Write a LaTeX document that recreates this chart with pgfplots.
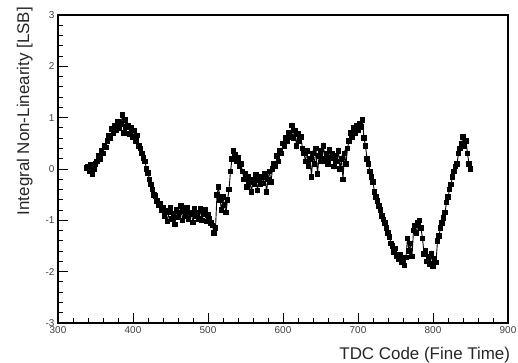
\documentclass[border=0pt]{standalone}
\usepackage{fontspec}
\setmainfont{Liberation Sans}
\usepackage{pgfplots}
\pgfplotsset{compat=1.18}
\usepackage{pgfplotstable}
\pgfplotstableread{
x y
338 0.02
340 0.05
342 -0.05
344 0.08
346 -0.10
348 0.00
350 0.10
352 0.15
354 0.25
356 0.20
358 0.35
360 0.30
362 0.45
364 0.42
366 0.55
368 0.65
370 0.60
372 0.78
374 0.70
376 0.85
378 0.75
380 0.92
382 0.80
384 0.88
386 1.05
388 0.70
390 0.95
392 0.82
394 0.85
396 0.68
398 0.80
400 0.62
402 0.75
404 0.55
406 0.65
408 0.45
410 0.40
412 0.30
414 0.22
416 0.15
418 0.00
420 -0.08
422 -0.20
424 -0.30
426 -0.40
428 -0.50
430 -0.52
432 -0.62
434 -0.70
436 -0.68
438 -0.80
440 -0.75
442 -0.92
444 -0.82
446 -1.02
448 -0.85
450 -0.76
452 -0.97
454 -0.88
456 -1.08
458 -0.80
460 -0.94
462 -0.85
464 -0.72
466 -1.00
468 -0.82
470 -0.92
472 -0.76
474 -0.97
476 -0.85
478 -0.88
480 -1.04
482 -0.78
484 -0.92
486 -0.85
488 -0.97
490 -0.78
492 -1.00
494 -0.88
496 -0.80
498 -1.02
500 -0.90
502 -0.96
504 -1.05
506 -1.10
508 -1.25
510 -1.15
512 -0.50
514 -0.35
516 -0.60
518 -0.80
520 -0.55
522 -0.70
524 -0.85
526 -0.60
528 -0.40
530 -0.05
532 0.20
534 0.35
536 0.28
538 0.15
540 0.22
542 0.05
544 0.10
546 -0.05
548 -0.20
550 -0.10
552 -0.35
554 -0.15
556 -0.25
558 -0.45
560 -0.20
562 -0.30
564 -0.12
566 -0.42
568 -0.22
570 -0.30
572 -0.15
574 -0.28
576 -0.10
578 -0.45
580 -0.20
582 -0.05
584 -0.25
586 0.00
588 0.10
590 0.05
592 0.25
594 0.15
596 0.35
598 0.30
600 0.50
602 0.45
604 0.60
606 0.55
608 0.70
610 0.62
612 0.85
614 0.60
616 0.75
618 0.45
620 0.68
622 0.55
624 0.62
626 0.40
628 0.30
630 0.15
632 0.35
634 0.05
636 0.20
638 -0.15
640 0.30
642 0.10
644 0.40
646 -0.10
648 0.25
650 0.35
652 0.15
654 0.45
656 0.20
658 0.30
660 0.10
662 0.38
664 0.22
666 0.30
668 0.05
670 0.25
672 0.15
674 0.35
676 0.00
678 0.20
680 -0.20
682 0.30
684 0.10
686 0.40
688 0.55
690 0.70
692 0.62
694 0.80
696 0.70
698 0.85
700 0.75
702 0.88
704 0.82
706 0.95
708 0.60
710 0.45
712 0.20
714 0.10
716 -0.05
718 -0.15
720 -0.25
722 -0.45
724 -0.55
726 -0.62
728 -0.72
730 -0.80
732 -0.92
734 -0.98
736 -1.05
738 -1.15
740 -1.25
742 -1.32
744 -1.45
746 -1.50
748 -1.62
750 -1.55
752 -1.70
754 -1.75
756 -1.68
758 -1.82
760 -1.78
762 -1.88
764 -1.72
766 -1.35
768 -1.60
770 -1.45
772 -1.70
774 -1.20
776 -1.10
778 -1.25
780 -1.05
782 -1.00
784 -1.15
786 -1.35
788 -1.65
790 -1.60
792 -1.80
794 -1.70
796 -1.85
798 -1.65
800 -1.90
802 -1.75
804 -1.82
806 -1.40
808 -1.30
810 -1.15
812 -1.05
814 -0.95
816 -0.85
818 -0.65
820 -0.55
822 -0.40
824 -0.30
826 -0.15
828 -0.05
830 0.05
832 0.10
834 0.30
836 0.40
838 0.50
840 0.62
842 0.45
844 0.55
846 0.30
848 0.10
850 0.00
}\inldata
\begin{document}
\begin{tikzpicture}
\begin{axis}[
  at={(0,0)}, anchor=south west,
  scale only axis,
  width=450bp, height=308bp,
  xmin=300, xmax=900, ymin=-3, ymax=3,
  xtick={300,400,...,900},
  ytick={-3,-2,...,3},
  minor tick num=4,
  tick align=inside,
  xtick pos=bottom, ytick pos=left,
  major tick length=10bp, minor tick length=5bp,
  axis line style={line width=1.1bp},
  every tick/.style={line width=1bp, black},
  /pgf/number format/assume math mode=true,
  tick label style={font=\fontsize{10}{12}\selectfont, color=black!75},
  ylabel={Integral Non-Linearity [LSB]},
  xlabel={TDC Code (Fine Time)},
  label style={font=\fontsize{17}{20}\selectfont, color=black!85},
  ylabel style={at={(axis description cs:-0.056,1.026)}, anchor=south east, inner sep=0pt},
  xlabel style={at={(axis description cs:1.005,-0.078)}, anchor=north east, inner sep=0pt},
  clip=false,
]
\addplot[black, line width=0.9bp, mark=square*, mark size=2.3bp, mark options={solid, fill=black}] table[x=x, y=y] {\inldata};
\end{axis}
\pgfresetboundingbox
\path (-58bp,-40bp) rectangle (460bp,323bp);
\end{tikzpicture}
\end{document}
